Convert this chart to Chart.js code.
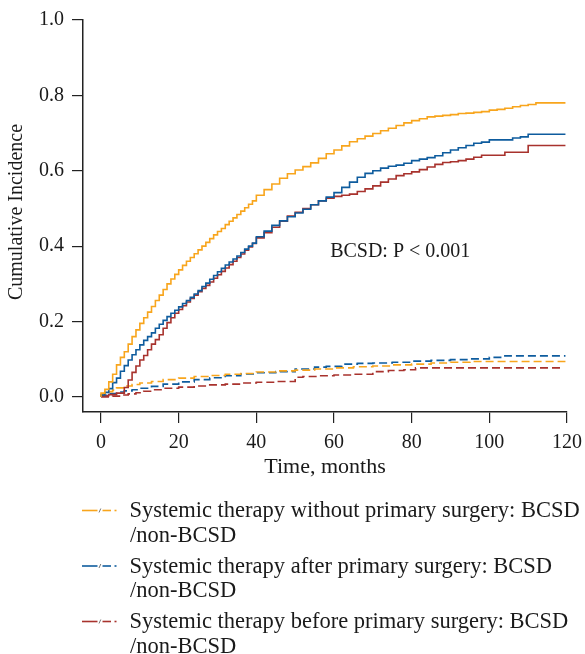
<!DOCTYPE html>
<html><head><meta charset="utf-8">
<script src="https://cdn.jsdelivr.net/npm/chart.js@4.4.1/dist/chart.umd.min.js"></script>
<style>html,body{margin:0;padding:0;background:#fff}#wrap{width:585px;height:654px;position:relative}</style>
</head><body><div id="wrap"><canvas id="c" width="585" height="654"></canvas></div>
<script>
// ---- tick labels / categories ----
const xTicks = [0, 20, 40, 60, 80, 100, 120];
const yTicks = [0, 0.2, 0.4, 0.6, 0.8, 1.0];
const groupNames = [
  "Systemic therapy without primary surgery: BCSD",
  "Systemic therapy after primary surgery: BCSD",
  "Systemic therapy before primary surgery: BCSD"
];
const groupSuffix = "/non-BCSD";
const annotationText = "BCSD: P < 0.001";

// ---- series (time in months, cumulative incidence) ----
const withoutBcsdT = [0,1,2,3,4,5,6,7,8,9,10,11,12,13,14,15,16,17,18,19,20,21,22,23,24,25,26,27,28,29,30,31,32,33,34,35,36,37,38,39,40,42,44,46,48,50,52,54,56,58,60,62,64,66,68,70,72,74,76,78,80,82,84,86,88,90,92,94,96,98,100,102,104,106,108,110,112,113,119.6];
const withoutBcsdV = [0,0.01,0.02,0.04,0.06,0.085,0.105,0.12,0.14,0.16,0.178,0.195,0.21,0.225,0.24,0.256,0.27,0.285,0.3,0.313,0.325,0.337,0.349,0.36,0.37,0.38,0.39,0.4,0.41,0.42,0.43,0.439,0.447,0.457,0.466,0.475,0.484,0.493,0.502,0.511,0.52,0.535,0.55,0.565,0.58,0.592,0.602,0.611,0.621,0.633,0.645,0.655,0.666,0.677,0.685,0.692,0.699,0.706,0.713,0.72,0.727,0.733,0.738,0.743,0.745,0.747,0.749,0.752,0.753,0.755,0.757,0.761,0.763,0.766,0.77,0.773,0.776,0.78,0.78];

const afterBcsdT = [0,1,2,3,4,5,6,7,8,9,10,11,12,13,14,15,16,17,18,19,20,21,22,23,24,25,26,27,28,29,30,31,32,33,34,35,36,37,38,39,40,42,44,46,48,50,52,54,56,58,60,62,64,66,68,70,72,74,76,78,80,82,84,86,88,90,92,94,96,98,100,106,108,110,112,119.6];
const afterBcsdV = [0,0.005,0.012,0.022,0.038,0.05,0.068,0.083,0.098,0.112,0.125,0.138,0.15,0.16,0.17,0.182,0.193,0.203,0.213,0.222,0.23,0.239,0.248,0.256,0.264,0.273,0.282,0.293,0.302,0.312,0.322,0.332,0.341,0.35,0.358,0.366,0.374,0.383,0.392,0.4,0.408,0.425,0.44,0.455,0.467,0.478,0.488,0.498,0.51,0.52,0.53,0.542,0.556,0.57,0.583,0.593,0.6,0.607,0.612,0.615,0.62,0.627,0.631,0.635,0.64,0.648,0.655,0.661,0.667,0.673,0.676,0.682,0.687,0.69,0.697,0.697];

const beforeBcsdT = [0,2,4,6,7,8,9,10,11,12,13,14,15,16,17,18,19,20,21,22,23,24,25,26,27,28,29,30,31,32,33,34,35,36,37,38,39,40,42,44,46,48,50,52,54,56,58,60,62,64,66,68,70,72,74,76,78,80,82,84,86,88,90,92,94,96,98,104,110,115.7,119.6];
const beforeBcsdV = [0,0.003,0.006,0.01,0.025,0.045,0.065,0.082,0.098,0.11,0.125,0.14,0.152,0.165,0.182,0.197,0.21,0.222,0.232,0.242,0.252,0.261,0.27,0.279,0.288,0.296,0.305,0.315,0.324,0.333,0.342,0.351,0.36,0.37,0.379,0.389,0.398,0.407,0.422,0.436,0.45,0.466,0.48,0.49,0.5,0.51,0.52,0.527,0.532,0.535,0.538,0.545,0.552,0.56,0.57,0.578,0.587,0.592,0.597,0.603,0.61,0.617,0.622,0.624,0.627,0.631,0.636,0.641,0.649,0.667,0.667];

const withoutOtherT = [0,1,2,3,4,6,8,10,13,16,20,24,28,32,36,40,45,50,55,60,65,70,75,80,85,90,95,100,119.6];
const withoutOtherV = [0,0.005,0.01,0.014,0.018,0.024,0.029,0.033,0.037,0.041,0.046,0.05,0.054,0.057,0.06,0.062,0.066,0.069,0.071,0.074,0.077,0.08,0.082,0.085,0.087,0.09,0.092,0.094,0.094];

const afterOtherT = [0,2,4,6,8,10,13,16,20,24,28,32,36,40,45,50,55,58,62,66,70,75,80,85,90,95,100,104,109,119.6];
const afterOtherV = [0,0.004,0.009,0.013,0.016,0.019,0.023,0.028,0.034,0.04,0.046,0.051,0.056,0.061,0.064,0.067,0.074,0.079,0.081,0.087,0.089,0.09,0.092,0.095,0.097,0.099,0.101,0.105,0.109,0.109];

const beforeOtherT = [0,3,5,7,9,11,13,16,20,24,28,32,36,40,45,50,52,56,60,65,70,74,78,81,88,118.3];
const beforeOtherV = [0,0,0.002,0.005,0.008,0.011,0.015,0.019,0.023,0.026,0.029,0.032,0.034,0.037,0.039,0.041,0.052,0.054,0.056,0.058,0.06,0.067,0.07,0.072,0.077,0.077];

// ---- styles ----
const colors = ["#F8A51C", "#0E5C9E", "#A8322D"];
const FONT = "'Liberation Serif', 'Times New Roman', serif";

function pts(t, v) { return t.map((x, i) => ({ x: x, y: v[i] })); }

const seriesData = [
  [withoutBcsdT, withoutBcsdV, 0, false],
  [afterBcsdT, afterBcsdV, 1, false],
  [beforeBcsdT, beforeBcsdV, 2, false],
  [withoutOtherT, withoutOtherV, 0, true],
  [afterOtherT, afterOtherV, 1, true],
  [beforeOtherT, beforeOtherV, 2, true]
];

const datasets = seriesData.map(s => ({
  data: pts(s[0], s[1]),
  borderColor: colors[s[2]],
  borderWidth: 1.6,
  borderDash: s[3] ? [8, 4] : [],
  pointRadius: 0,
  fill: false,
  stepped: 'after',
  tension: 0
}));

const textPlugin = {
  id: 'texts',
  afterDraw(chart) {
    const ctx = chart.ctx;
    const xs = chart.scales.x, ys = chart.scales.y;
    ctx.save();
    ctx.fillStyle = '#1a1a1a';
    // y title
    ctx.font = "20px " + FONT;
    ctx.textAlign = 'center'; ctx.textBaseline = 'middle';
    ctx.save(); ctx.translate(17, 212); ctx.rotate(-Math.PI / 2);
    ctx.fillText("Cumulative Incidence", 0, 0); ctx.restore();
    // x title
    ctx.font = "22px " + FONT;
    ctx.fillText("Time, months", (chart.chartArea.left + chart.chartArea.right) / 2, 467);
    // annotation
    ctx.font = "20px " + FONT;
    ctx.textAlign = 'left';
    ctx.fillText(annotationText, xs.getPixelForValue(59), ys.getPixelForValue(0.385));
    // legend
    ctx.font = "22.5px " + FONT;
    ctx.textBaseline = 'alphabetic';
    for (let i = 0; i < groupNames.length; i++) {
      const base = 517 + i * 55.5;
      const my = base - 6.5;
      ctx.strokeStyle = colors[i];
      ctx.lineWidth = 1.6;
      ctx.setLineDash([]);
      ctx.beginPath(); ctx.moveTo(82, my); ctx.lineTo(97.5, my); ctx.stroke();
      ctx.beginPath(); ctx.moveTo(102.5, my); ctx.lineTo(111, my); ctx.stroke();
      ctx.beginPath(); ctx.moveTo(114.5, my); ctx.lineTo(116.5, my); ctx.stroke();
      ctx.strokeStyle = '#777'; ctx.lineWidth = 1;
      ctx.beginPath(); ctx.moveTo(99, my + 2); ctx.lineTo(100.8, my - 2); ctx.stroke();
      ctx.fillStyle = '#1a1a1a';
      ctx.fillText(groupNames[i], 129.5, base);
      ctx.fillText(groupSuffix, 130, base + 24.5);
    }
    ctx.restore();
  }
};

new Chart(document.getElementById('c'), {
  type: 'line',
  data: { datasets: datasets },
  plugins: [textPlugin],
  options: {
    responsive: false,
    animation: false,
    devicePixelRatio: 1,
    layout: { padding: { left: 0, right: 18, top: 20, bottom: 172 } },
    plugins: { legend: { display: false }, tooltip: { enabled: false } },
    scales: {
      x: {
        type: 'linear', min: -4.64, max: 120,
        afterBuildTicks: s => { s.ticks = xTicks.map(v => ({ value: v })); },
        afterFit: s => { s.height = 70; s.paddingLeft = 0; s.paddingRight = 0; },
        ticks: { font: { family: FONT, size: 20 }, color: '#1a1a1a', padding: 8, maxRotation: 0, autoSkip: false },
        grid: { display: true, drawOnChartArea: false, drawTicks: true, tickLength: 11, color: '#222', lineWidth: 1.2 },
        border: { display: true, color: '#222', width: 1.5 }
      },
      y: {
        type: 'linear', min: -0.04, max: 1.0,
        afterBuildTicks: s => { s.ticks = yTicks.map(v => ({ value: v })); },
        afterFit: s => { s.width = 83; s.paddingTop = 0; s.paddingBottom = 0; },
        ticks: { font: { family: FONT, size: 20 }, color: '#1a1a1a', padding: 8, autoSkip: false, callback: v => v.toFixed(1) },
        grid: { display: true, drawOnChartArea: false, drawTicks: true, tickLength: 11, color: '#222', lineWidth: 1.2 },
        border: { display: true, color: '#222', width: 1.5 }
      }
    }
  }
});
</script>
</body></html>
